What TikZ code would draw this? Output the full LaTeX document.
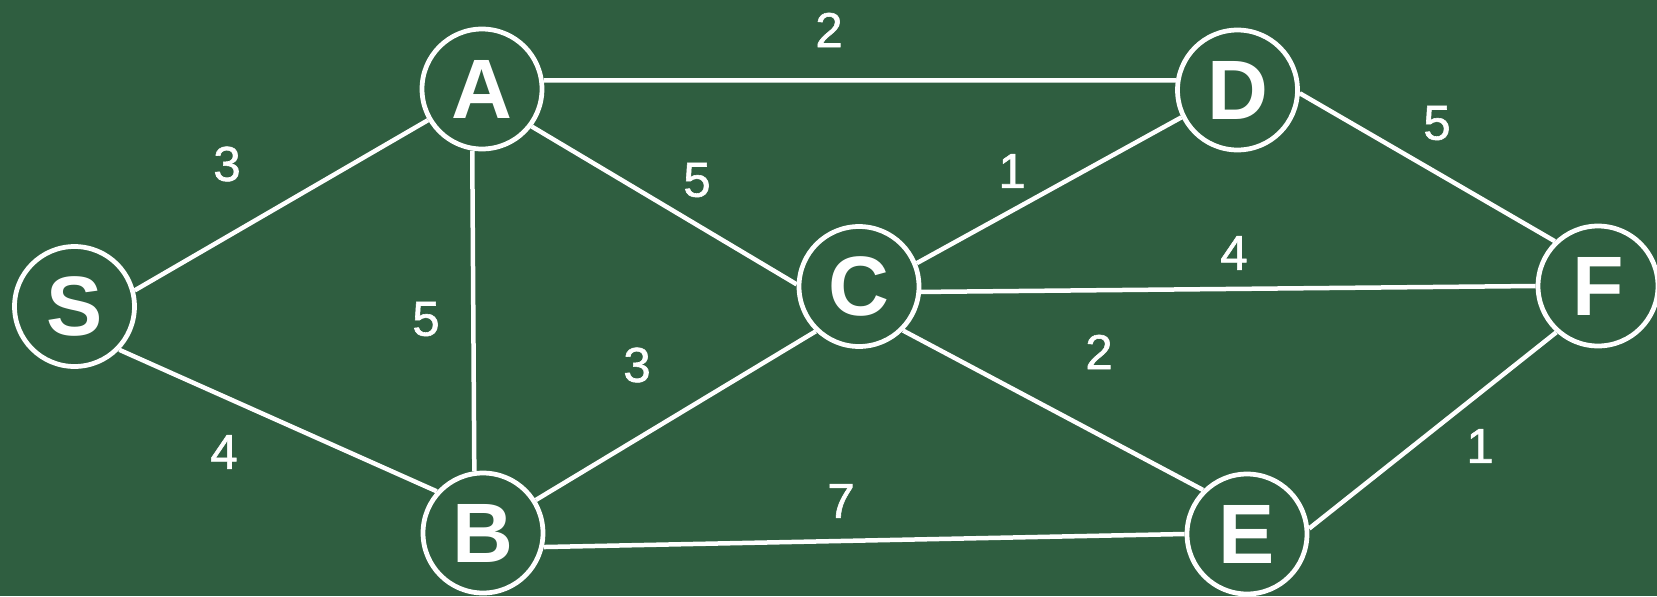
\documentclass[tikz,border=0pt]{standalone}
\usepackage{fontspec}
\setmainfont{Liberation Sans}
\newfontfamily\digitfont[FakeBold=1.2]{Liberation Sans}
\begin{document}
\begin{tikzpicture}[x=0.02cm,y=-0.02cm,
  vertex/.style={circle,draw=white,line width=0.095cm,minimum size=2.4cm,inner sep=0pt,
     text=white,font=\fontsize{48}{50}\selectfont\bfseries},
  edge/.style={draw=white,line width=0.09cm},
  wlabel/.style={text=white,font=\fontsize{28}{30}\digitfont,inner sep=0pt}]
\definecolor{board}{RGB}{47,94,64}
\fill[board] (0,0) rectangle (1657,596);
\useasboundingbox (0,0) rectangle (1657,596);
\node[vertex] (S) at (74.5,306.5) {S};
\node[vertex] (A) at (482,89) {A};
\node[vertex] (D) at (1237.5,90) {D};
\node[vertex] (C) at (859,286.5) {C};
\node[vertex] (F) at (1598,286) {F};
\node[vertex] (B) at (483,533) {B};
\node[vertex] (E) at (1247,534) {E};
\draw[edge] (S.15) -- (A.210);
\draw[edge] (S.316) -- (B.138);
\draw[edge] (A.8) -- (D.171);
\draw[edge] (A.323) -- (C.178);
\draw[edge] (A.261.5) -- (B.98.5);
\draw[edge] (C.22) -- (D.206);
\draw[edge] (C.-5) -- (F.180);
\draw[edge] (C.226) -- (B.32);
\draw[edge] (C.315) -- (E.135);
\draw[edge] (B.-13) -- (E.180);
\draw[edge] (D.-3) -- (F.134);
\draw[edge] (E.5.5) -- (F.228);
\node[wlabel] (lAD) at (829,30) {2};
\node[wlabel] (lSA) at (227,164) {3};
\node[wlabel] (lDF) at (1437,123) {5};
\node[wlabel] (lCF) at (1234,253) {4};
\node[wlabel] (lBE) at (841,501) {7};
\node[wlabel] (lAC) at (697,180) {5};
\node[wlabel] (lCD) at (1012,171) {1};
\node[wlabel] (lAB) at (426,319) {5};
\node[wlabel] (lBC) at (637,365) {3};
\node[wlabel] (lCE) at (1099,352) {2};
\node[wlabel] (lSB) at (224,452) {4};
\node[wlabel] (lEF) at (1480,446) {1};
\end{tikzpicture}
\end{document}
